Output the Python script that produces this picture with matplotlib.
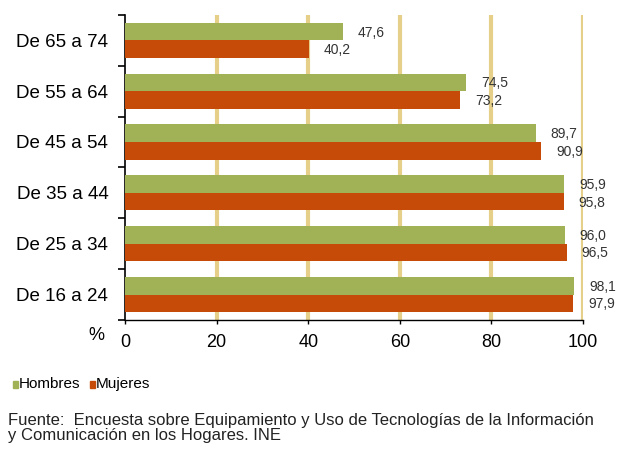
import matplotlib
matplotlib.use("Agg")
import matplotlib.pyplot as plt
import numpy as np

plt.rcParams['font.family'] = ['Liberation Sans', 'DejaVu Sans']

categories = ["De 16 a 24", "De 25 a 34", "De 35 a 44", "De 45 a 54", "De 55 a 64", "De 65 a 74"]
hombres = [98.1, 96.0, 95.9, 89.7, 74.5, 47.6]
mujeres = [97.9, 96.5, 95.8, 90.9, 73.2, 40.2]
hombres_lbl = ["98,1", "96,0", "95,9", "89,7", "74,5", "47,6"]
mujeres_lbl = ["97,9", "96,5", "95,8", "90,9", "73,2", "40,2"]
xticks = [0, 20, 40, 60, 80, 100]

green = "#A0B255"
red = "#C64A08"
gridc = "#E6CF88"

fig = plt.figure(figsize=(6.19, 4.5), dpi=100)
ax = fig.add_axes([0.202, 0.289, 0.740, 0.678])

y = np.arange(len(categories))
h = 0.345
ax.barh(y + h/2, hombres, height=h, color=green, zorder=3)
ax.barh(y - h/2, mujeres, height=h, color=red, zorder=3)

for yi, v, l in zip(y, hombres, hombres_lbl):
    ax.text(v + 3.2, yi + h/2 - 0.02, l, fontsize=10, color="#333333", va="center", ha="left", zorder=4)
for yi, v, l in zip(y, mujeres, mujeres_lbl):
    ax.text(v + 3.2, yi - h/2 - 0.02, l, fontsize=10, color="#333333", va="center", ha="left", zorder=4)

ax.set_xlim(0, 100)
ax.set_ylim(-0.5, len(categories) - 0.5)
ax.set_xticks(xticks)
ax.set_xticklabels([str(t) for t in xticks], fontsize=13)
ax.set_yticks(y)
ax.set_yticklabels(categories, fontsize=13.5)
ax.set_yticks(np.arange(-0.5, len(categories), 1.0), minor=True)
ax.tick_params(axis='y', which='major', length=0, pad=12)
ax.tick_params(axis='y', which='minor', length=5, width=1.2, color='black')
ax.tick_params(axis='x', length=3, width=1.0, pad=7)

for xv in xticks[1:]:
    ax.axvline(xv, color=gridc, lw=3, zorder=1)

for s in ['top', 'right']:
    ax.spines[s].set_visible(False)
ax.spines['left'].set_linewidth(1.2)
ax.spines['bottom'].set_linewidth(1.0)
ax.spines['bottom'].set_zorder(5)

fig.text(88/619, 1 - 335/450, "%", fontsize=13, ha="left", va="center")

# legend
fig.patches.append(plt.Rectangle((13/619, 1 - 388/450), 5/619, 7/450, transform=fig.transFigure, color=green))
fig.text(19/619, 1 - 384/450, "Hombres", fontsize=11, va="center", ha="left")
fig.patches.append(plt.Rectangle((90/619, 1 - 388/450), 5/619, 7/450, transform=fig.transFigure, color=red))
fig.text(96/619, 1 - 384/450, "Mujeres", fontsize=11, va="center", ha="left")

fig.text(8/619, 1 - 428/450, "Fuente:  Encuesta sobre Equipamiento y Uso de Tecnologías de la Información\ny Comunicación en los Hogares. INE",
         fontsize=12, va="center", ha="left", linespacing=0.95, color="#222222")

fig.savefig("out.png", dpi=100)
